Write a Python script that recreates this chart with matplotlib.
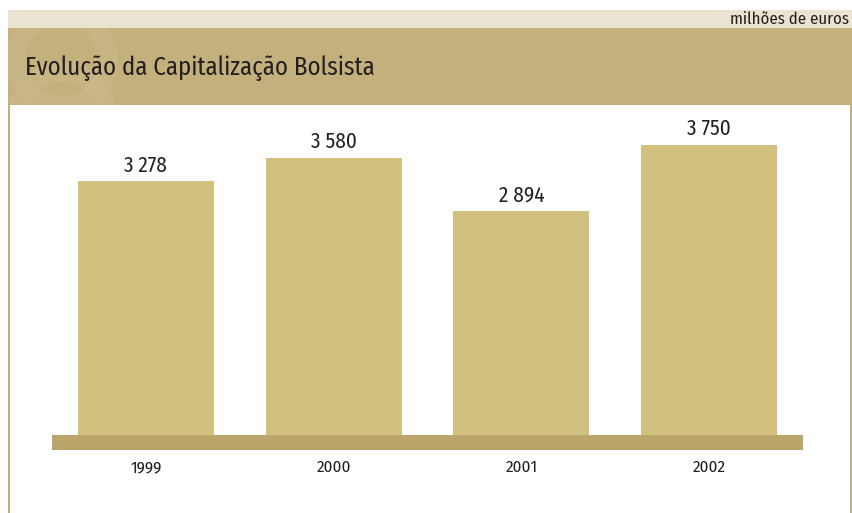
import matplotlib.pyplot as plt
from matplotlib.patches import Rectangle, Circle

years = ['1999', '2000', '2001', '2002']
values = [3278, 3580, 2894, 3750]

title = 'Evolução da Capitalização Bolsista'
unit = 'milhões de euros'

plt.rcParams['font.family'] = ['Fira Sans Condensed', 'DejaVu Sans']
txt = '#231f20'

fig = plt.figure(figsize=(8.53, 5.13), dpi=100)

# frame / header drawn in pixel coordinates
bg = fig.add_axes([0, 0, 1, 1])
bg.set_xlim(0, 853)
bg.set_ylim(513, 0)
bg.axis('off')
bg.add_patch(Rectangle((8, 10), 845, 18, color='#eae3d1', lw=0))
bg.add_patch(Rectangle((8, 28), 845, 77, color='#c4b07c', lw=0))
bg.add_patch(Rectangle((8, 105), 2.5, 408, color='#c4b07c', lw=0))
bg.add_patch(Rectangle((850, 105), 2.5, 408, color='#c4b07c', lw=0))
# faint logo watermark
band = Rectangle((8, 28), 845, 77, transform=bg.transData)
for c in [Circle((62, 60), 46, fill=False, lw=14, ec='#cbba8b', alpha=0.6),
          Circle((62, 118), 46, fill=False, lw=14, ec='#cbba8b', alpha=0.6)]:
    bg.add_patch(c)
    c.set_clip_path(band)
bg.text(25, 68, title, fontsize=17.9, color=txt, va='center', ha='left')
bg.text(849, 19, unit, fontsize=12, color=txt, va='center', ha='right')

ax = fig.add_axes([52 / 853, (513 - 450) / 513, 751 / 853, 340 / 513])
ax.set_xlim(-0.5, 3.5)
ax.set_ylim(-194, 4200)
ax.axhspan(-194, 0, color='#bba56b', lw=0)
x = range(len(years))
bars = ax.bar(x, values, width=0.725, color='#d2c07e', lw=0)
for xi, v in zip(x, values):
    ax.annotate(f'{v:,}'.replace(',', ' '), (xi, v), xytext=(0, 7),
                textcoords='offset points', ha='center', va='baseline',
                fontsize=15.2, color=txt)
ax.set_xticks(list(x))
ax.set_xticklabels(years, fontsize=12.3, color=txt)
ax.tick_params(axis='x', length=0, pad=7)
ax.set_yticks([])
for s in ax.spines.values():
    s.set_visible(False)
ax.patch.set_alpha(0)

fig.savefig('out.png', dpi=100)
